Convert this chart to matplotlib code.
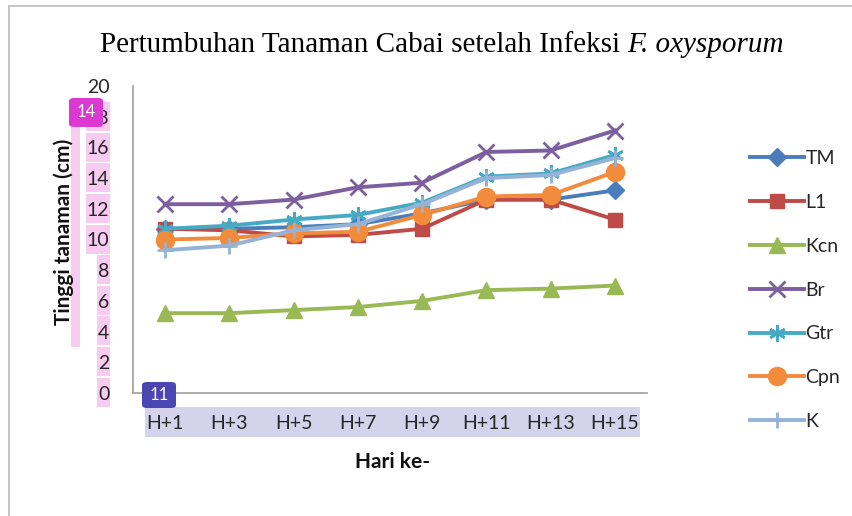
import matplotlib
matplotlib.use("Agg")
import matplotlib.pyplot as plt
from matplotlib.patches import FancyBboxPatch, Rectangle
from matplotlib.lines import Line2D

days = ["H+1", "H+3", "H+5", "H+7", "H+9", "H+11", "H+13", "H+15"]
TM  = [10.7, 10.7, 10.8, 11.0, 11.7, 12.6, 12.6, 13.2]
L1  = [10.7, 10.6, 10.2, 10.3, 10.7, 12.6, 12.6, 11.3]
Kcn = [5.2, 5.2, 5.4, 5.6, 6.0, 6.7, 6.8, 7.0]
Br  = [12.3, 12.3, 12.6, 13.4, 13.7, 15.7, 15.8, 17.1]
Gtr = [10.7, 10.9, 11.3, 11.6, 12.4, 14.1, 14.3, 15.5]
Cpn = [10.0, 10.1, 10.4, 10.5, 11.6, 12.8, 12.9, 14.4]
K   = [9.3, 9.6, 10.6, 11.0, 12.3, 14.0, 14.2, 15.3]

series = [
    ("TM", TM, "#4A7EBB", "D", 9),
    ("L1", L1, "#BE4B48", "s", 10),
    ("Kcn", Kcn, "#98B954", "^", 11),
    ("Br", Br, "#7D5FA0", "x", 11),
    ("Gtr", Gtr, "#46AAC5", (6, 2, 0), 12),
    ("Cpn", Cpn, "#F38B3C", "o", 13),
    ("K", K, "#95B3D7", "+", 11),
]

W, H = 852, 516
fig = plt.figure(figsize=(W / 100, H / 100), dpi=100)

def fx(px):
    return px / W

def fy(py):
    return 1 - py / H

ax = fig.add_axes([fx(133), fy(393), fx(647) - fx(133), fy(86) - fy(393)])
ax.patch.set_alpha(0)
x = list(range(len(days)))
for name, vals, col, mk, ms in series:
    mew = 2.0 if mk in ("x", "+") or isinstance(mk, tuple) else 1
    ax.plot(x, vals, color=col, lw=2.8, marker=mk, ms=ms, mew=mew,
            mec=col, mfc=col, label=name, solid_joinstyle="round")

ax.set_xlim(-0.5, len(days) - 0.5)
ax.set_ylim(0, 20)
ax.set_yticks(range(0, 21, 2))
ax.set_xticks(x)
ax.set_xticklabels(days)
for s in ["top", "right"]:
    ax.spines[s].set_visible(False)
for s in ["left", "bottom"]:
    ax.spines[s].set_color("#A6A6A6")
    ax.spines[s].set_linewidth(1.3)
ax.tick_params(axis="y", length=0, pad=17, labelsize=14, labelcolor="#262626")
ax.tick_params(axis="x", length=0, pad=16, labelsize=14, labelcolor="#262626")
for lab in ax.get_xticklabels() + ax.get_yticklabels():
    lab.set_fontfamily("Lato")

fig.text(fx(64), fy(232), "Tinggi tanaman (cm)", rotation=90, fontsize=15,
         fontweight="bold", fontfamily="Lato", ha="center", va="center", color="#111111")
fig.text(fx(393), fy(462), "Hari ke-", fontsize=15, fontweight="bold",
         fontfamily="Lato", ha="center", va="center", color="#111111")

leg = ax.legend(loc="center left", bbox_to_anchor=(fx(750), fy(290)),
                bbox_transform=fig.transFigure, frameon=False,
                borderpad=0, borderaxespad=0, handlelength=2.8,
                handletextpad=0.05, labelspacing=1.38,
                prop={"family": "Lato", "size": 14})
for t in leg.get_texts():
    t.set_color("#262626")

# Title with italic species name
t1 = fig.text(0, fy(45), "Pertumbuhan Tanaman Cabai setelah Infeksi ",
              fontsize=21, fontfamily="Liberation Serif", va="center", ha="left")
t2 = fig.text(0, fy(45), "F. oxysporum", fontsize=21,
              fontfamily="Liberation Serif", style="italic", va="center", ha="left")
fig.canvas.draw()
r = fig.canvas.get_renderer()
w1 = t1.get_window_extent(r).width
w2 = t2.get_window_extent(r).width
start = 442 - (w1 + w2) / 2
t1.set_x(fx(start))
t2.set_x(fx(start + w1))

# outer frame
fig.add_artist(Line2D([fx(9), fx(9)], [fy(6), fy(516)], color="#BFBFBF", lw=1.3, transform=fig.transFigure))
fig.add_artist(Line2D([fx(9), fx(852)], [fy(6), fy(6)], color="#BFBFBF", lw=1.3, transform=fig.transFigure))

# highlight overlays
def rect(x0, y0, x1, y1, color, z=-1):
    fig.add_artist(Rectangle((fx(x0), fy(y1)), fx(x1) - fx(x0), fy(y0) - fy(y1),
                             transform=fig.transFigure, color=color, lw=0, zorder=z))

pink = "#F8CBF1"
rect(71, 127, 80, 347, pink)
tick_boxes = {18: 86, 16: 86, 14: 86, 12: 86, 10: 86, 8: 97, 6: 97, 4: 97, 2: 97, 0: 97}
for v, xl in tick_boxes.items():
    yc = 392 - v * 15.3
    rect(xl, yc - 14.5, 110, yc + 14.5, pink)
rect(145, 407, 640, 437, "#D5D3EC")

def badge(x0, y0, x1, y1, color, text):
    fig.add_artist(FancyBboxPatch((fx(x0), fy(y1)), fx(x1) - fx(x0), fy(y0) - fy(y1),
                                  boxstyle="round,pad=0,rounding_size=0.006",
                                  transform=fig.transFigure, fc=color, ec="none", zorder=5))
    fig.text(fx((x0 + x1) / 2), fy((y0 + y1) / 2), text, color="white",
             fontsize=12, ha="center", va="center", fontfamily="Lato", zorder=6)

badge(69, 98, 103, 127, "#DA3AD2", "14")
badge(142, 382, 176, 408, "#4A46B2", "11")

fig.savefig("out.png", dpi=100)
